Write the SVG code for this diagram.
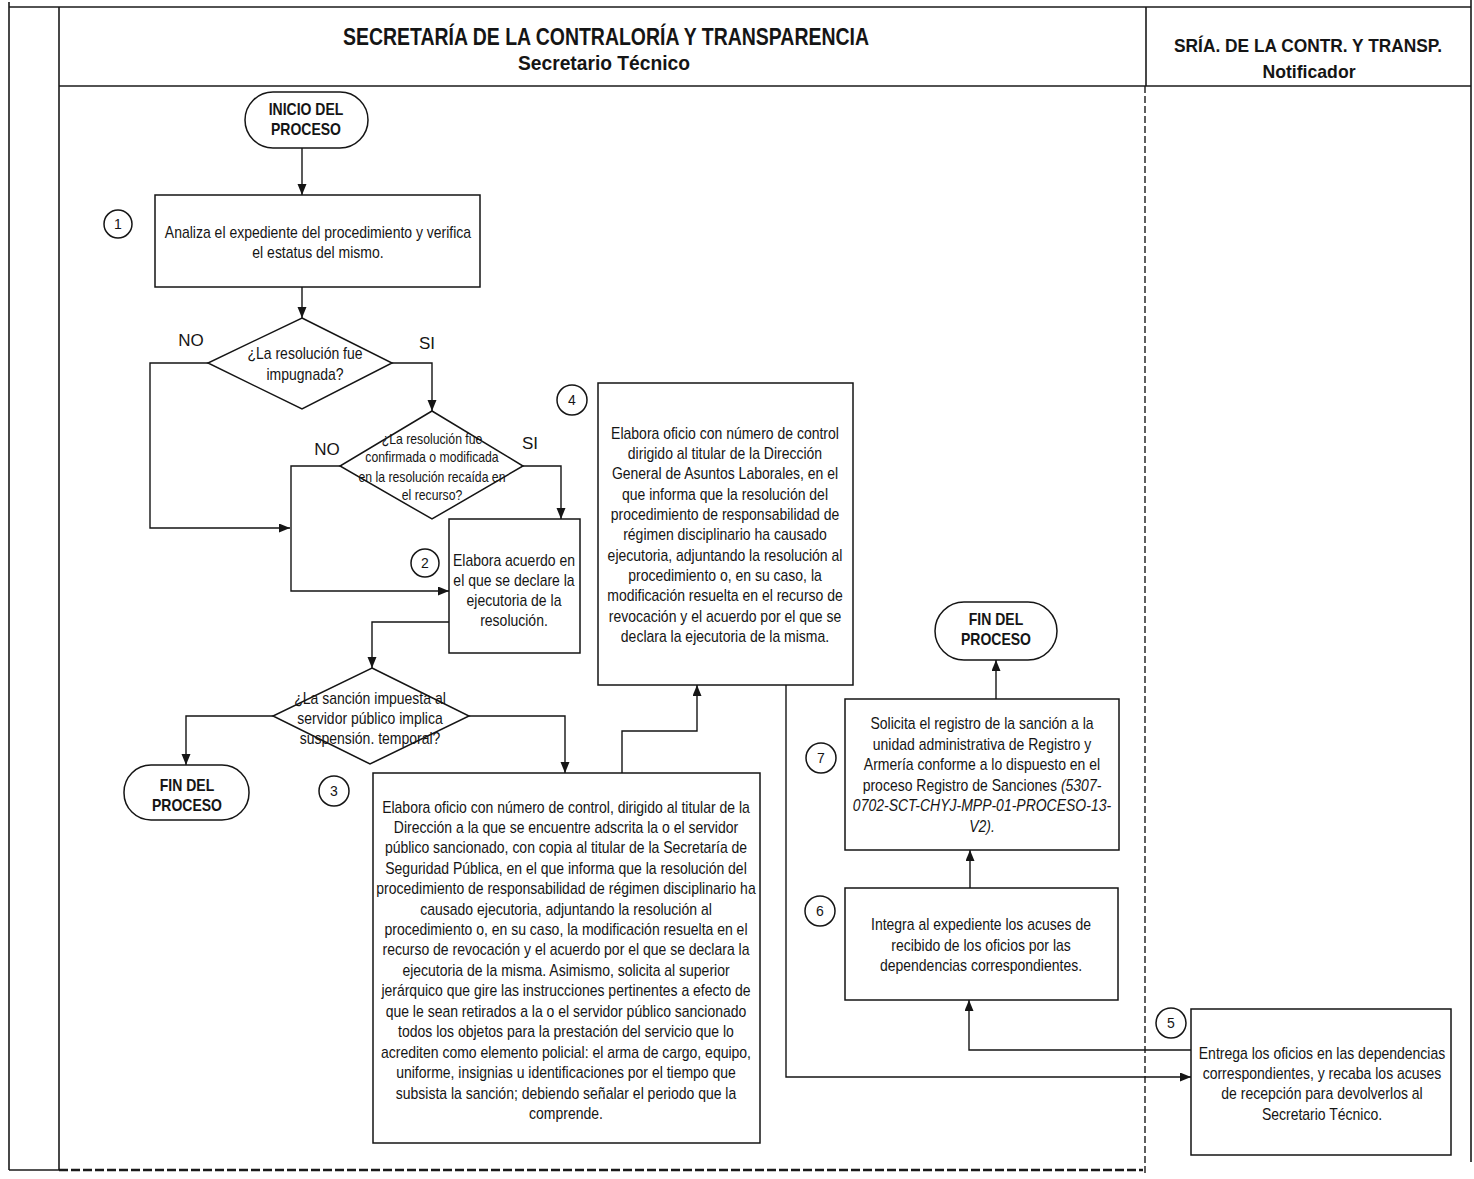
<svg xmlns="http://www.w3.org/2000/svg" width="1474" height="1179" viewBox="0 0 1474 1179">
  <style>
    .frame { fill: none; stroke: #1a1a1a; stroke-width: 1.6; }
    .dash { fill: none; stroke: #1a1a1a; stroke-width: 1.4; stroke-dasharray: 7 3; }
    .dashb { fill: none; stroke: #1a1a1a; stroke-width: 2.6; stroke-dasharray: 9 3; }
    .ln { fill: none; stroke: #151515; stroke-width: 1.4; }
    .box { fill: #ffffff; stroke: #151515; stroke-width: 1.5; }
    .t { font-family: "Liberation Sans", Arial, sans-serif; font-size: 16px; fill: #151515; text-anchor: middle; }
    .b { font-weight: bold; }
    .sm { font-size: 14px; }
    .num { font-size: 14px; }
    .lbl { font-size: 17px; }
    .it { font-style: italic; }
    .h1 { font-size: 24px; }
    .h2 { font-size: 20px; }
    .h3 { font-size: 19px; }
  </style>
  <defs>
    <marker id="arr" markerUnits="userSpaceOnUse" markerWidth="12" markerHeight="10" refX="11" refY="4.5" orient="auto">
      <path d="M0,0 L11,4.5 L0,9 z" fill="#151515"/>
    </marker>
  </defs>

  <rect width="1474" height="1179" fill="#ffffff"/>

  <!-- Swimlane frame -->
  <g id="frame">
    <line class="frame" x1="9" y1="7" x2="1471" y2="7"/>
    <line class="frame" x1="9" y1="2" x2="9" y2="1170"/>
    <line class="frame" x1="59" y1="7" x2="59" y2="1170"/>
    <line class="frame" x1="9" y1="1170" x2="59" y2="1170"/>
    <line class="frame" x1="59" y1="86" x2="1471" y2="86"/>
    <line class="frame" x1="1146" y1="7" x2="1146" y2="86"/>
    <line class="dash" x1="1145" y1="86" x2="1145" y2="1176"/>
    <line class="frame" x1="1471" y1="0" x2="1471" y2="1162"/>
    <line class="dashb" x1="59" y1="1170" x2="1143" y2="1170"/>
  </g>

  <!-- Lane headers -->
  <g id="header-secretario">
    <text class="t b h1" x="606" y="45" textLength="526" lengthAdjust="spacingAndGlyphs">SECRETARÍA DE LA CONTRALORÍA Y TRANSPARENCIA</text>
    <text class="t b h2" x="604" y="70" textLength="172" lengthAdjust="spacingAndGlyphs">Secretario Técnico</text>
  </g>
  <g id="header-notificador">
    <text class="t b h3" x="1308" y="52" textLength="268" lengthAdjust="spacingAndGlyphs">SRÍA. DE LA CONTR. Y TRANSP.</text>
    <text class="t b h3" x="1309" y="78" textLength="93" lengthAdjust="spacingAndGlyphs">Notificador</text>
  </g>

  <!-- Connectors -->
  <g id="connectors">
    <path class="ln" d="M302,148 V195" marker-end="url(#arr)"/>
    <path class="ln" d="M302,287 V318" marker-end="url(#arr)"/>
    <path class="ln" d="M208,363 H150 V528 H290" marker-end="url(#arr)"/>
    <path class="ln" d="M392,363 H432 V411" marker-end="url(#arr)"/>
    <path class="ln" d="M340,466 H291 V591 H449" marker-end="url(#arr)"/>
    <path class="ln" d="M523,466 H561 V519" marker-end="url(#arr)"/>
    <path class="ln" d="M449,622 H372 V668" marker-end="url(#arr)"/>
    <path class="ln" d="M273,716 H186 V765" marker-end="url(#arr)"/>
    <path class="ln" d="M469,716 H565 V773" marker-end="url(#arr)"/>
    <path class="ln" d="M622,773 V731 H697 V685" marker-end="url(#arr)"/>
    <path class="ln" d="M786,685 V1077 H1191" marker-end="url(#arr)"/>
    <path class="ln" d="M1191,1050 H969 V1000" marker-end="url(#arr)"/>
    <path class="ln" d="M970,888 V850" marker-end="url(#arr)"/>
    <path class="ln" d="M996,699 V660" marker-end="url(#arr)"/>
    <text class="t lbl" x="191" y="346">NO</text>
    <text class="t lbl" x="427" y="349">SI</text>
    <text class="t lbl" x="327" y="455">NO</text>
    <text class="t lbl" x="530" y="449">SI</text>
  </g>

  <!-- Start -->
  <g id="inicio">
    <rect class="box" x="245" y="92" width="123" height="56" rx="28"/>
    <g transform="translate(306,0) scale(0.875,1)">
      <text class="t b" x="0" y="115">INICIO DEL</text>
      <text class="t b" x="0" y="135">PROCESO</text>
    </g>
  </g>

  <!-- Step 1 -->
  <g id="paso-1">
    <rect class="box" x="155" y="195" width="325" height="92"/>
    <g transform="translate(318,0) scale(0.875,1)">
      <text class="t" x="0" y="238">Analiza el expediente del procedimiento y verifica</text>
      <text class="t" x="0" y="258">el estatus del mismo.</text>
    </g>
    <circle class="box" cx="118" cy="224" r="14"/>
    <text class="t num" x="118" y="229">1</text>
  </g>

  <!-- Decision: impugnada -->
  <g id="decision-impugnada">
    <polygon class="box" points="302,318 392,363 302,409 208,363"/>
    <g transform="translate(305,0) scale(0.875,1)">
      <text class="t" x="0" y="359">¿La resolución fue</text>
      <text class="t" x="0" y="380">impugnada?</text>
    </g>
  </g>

  <!-- Decision: confirmada o modificada -->
  <g id="decision-confirmada">
    <polygon class="box" points="432,411 523,466 432,519 340,466"/>
    <g transform="translate(432,0) scale(0.875,1)">
      <text class="t sm" x="0" y="444">¿La resolución fue</text>
      <text class="t sm" x="0" y="462">confirmada o modificada</text>
      <text class="t sm" x="0" y="482">en la resolución recaída en</text>
      <text class="t sm" x="0" y="500">el recurso?</text>
    </g>
  </g>

  <!-- Step 2 -->
  <g id="paso-2">
    <rect class="box" x="449" y="519" width="131" height="134"/>
    <g transform="translate(514,0) scale(0.875,1)">
      <text class="t" x="0" y="566">Elabora acuerdo en</text>
      <text class="t" x="0" y="586">el que se declare la</text>
      <text class="t" x="0" y="606">ejecutoria de la</text>
      <text class="t" x="0" y="626">resolución.</text>
    </g>
    <circle class="box" cx="425" cy="563" r="14"/>
    <text class="t num" x="425" y="568">2</text>
  </g>

  <!-- Decision: suspensión temporal -->
  <g id="decision-suspension">
    <polygon class="box" points="372,668 469,716 370,764 273,716"/>
    <g transform="translate(370,0) scale(0.875,1)">
      <text class="t" x="0" y="704">¿La sanción impuesta al</text>
      <text class="t" x="0" y="724">servidor público implica</text>
      <text class="t" x="0" y="744">suspensión. temporal?</text>
    </g>
  </g>

  <!-- End (no suspension) -->
  <g id="fin-1">
    <rect class="box" x="124" y="765" width="125" height="55" rx="27"/>
    <g transform="translate(187,0) scale(0.875,1)">
      <text class="t b" x="0" y="791">FIN DEL</text>
      <text class="t b" x="0" y="811">PROCESO</text>
    </g>
  </g>

  <!-- Step 3 -->
  <g id="paso-3">
    <rect class="box" x="373" y="773" width="387" height="370"/>
    <g transform="translate(566,0) scale(0.875,1)">
      <text class="t" x="0" y="813">Elabora oficio con número de control, dirigido al titular de la</text>
      <text class="t" x="0" y="833">Dirección a la que se encuentre adscrita la o el servidor</text>
      <text class="t" x="0" y="853">público sancionado, con copia al titular de la Secretaría de</text>
      <text class="t" x="0" y="874">Seguridad Pública, en el que informa que la resolución del</text>
      <text class="t" x="0" y="894">procedimiento de responsabilidad de régimen disciplinario ha</text>
      <text class="t" x="0" y="915">causado ejecutoria, adjuntando la resolución al</text>
      <text class="t" x="0" y="935">procedimiento o, en su caso, la modificación resuelta en el</text>
      <text class="t" x="0" y="955">recurso de revocación y el acuerdo por el que se declara la</text>
      <text class="t" x="0" y="976">ejecutoria de la misma. Asimismo, solicita al superior</text>
      <text class="t" x="0" y="996">jerárquico que gire las instrucciones pertinentes a efecto de</text>
      <text class="t" x="0" y="1017">que le sean retirados a la o el servidor público sancionado</text>
      <text class="t" x="0" y="1037">todos los objetos para la prestación del servicio que lo</text>
      <text class="t" x="0" y="1058">acrediten como elemento policial: el arma de cargo, equipo,</text>
      <text class="t" x="0" y="1078">uniforme, insignias u identificaciones por el tiempo que</text>
      <text class="t" x="0" y="1099">subsista la sanción; debiendo señalar el periodo que la</text>
      <text class="t" x="0" y="1119">comprende.</text>
    </g>
    <circle class="box" cx="334" cy="791" r="15"/>
    <text class="t num" x="334" y="796">3</text>
  </g>

  <!-- Step 4 -->
  <g id="paso-4">
    <rect class="box" x="598" y="383" width="255" height="302"/>
    <g transform="translate(725,0) scale(0.875,1)">
      <text class="t" x="0" y="439">Elabora oficio con número de control</text>
      <text class="t" x="0" y="459">dirigido al titular de la Dirección</text>
      <text class="t" x="0" y="479">General de Asuntos Laborales, en el</text>
      <text class="t" x="0" y="500">que informa que la resolución del</text>
      <text class="t" x="0" y="520">procedimiento de responsabilidad de</text>
      <text class="t" x="0" y="540">régimen disciplinario ha causado</text>
      <text class="t" x="0" y="561">ejecutoria, adjuntando la resolución al</text>
      <text class="t" x="0" y="581">procedimiento o, en su caso, la</text>
      <text class="t" x="0" y="601">modificación resuelta en el recurso de</text>
      <text class="t" x="0" y="622">revocación y el acuerdo por el que se</text>
      <text class="t" x="0" y="642">declara la ejecutoria de la misma.</text>
    </g>
    <circle class="box" cx="572" cy="400" r="15"/>
    <text class="t num" x="572" y="405">4</text>
  </g>

  <!-- Step 5 -->
  <g id="paso-5">
    <rect class="box" x="1191" y="1009" width="260" height="146"/>
    <g transform="translate(1322,0) scale(0.875,1)">
      <text class="t" x="0" y="1059">Entrega los oficios en las dependencias</text>
      <text class="t" x="0" y="1079">correspondientes, y recaba los acuses</text>
      <text class="t" x="0" y="1099">de recepción para devolverlos al</text>
      <text class="t" x="0" y="1120">Secretario Técnico.</text>
    </g>
    <circle class="box" cx="1171" cy="1023" r="15"/>
    <text class="t num" x="1171" y="1028">5</text>
  </g>

  <!-- Step 6 -->
  <g id="paso-6">
    <rect class="box" x="845" y="888" width="273" height="112"/>
    <g transform="translate(981,0) scale(0.875,1)">
      <text class="t" x="0" y="930">Integra al expediente los acuses de</text>
      <text class="t" x="0" y="951">recibido de los oficios por las</text>
      <text class="t" x="0" y="971">dependencias correspondientes.</text>
    </g>
    <circle class="box" cx="820" cy="911" r="15"/>
    <text class="t num" x="820" y="916">6</text>
  </g>

  <!-- Step 7 -->
  <g id="paso-7">
    <rect class="box" x="845" y="699" width="274" height="151"/>
    <g transform="translate(982,0) scale(0.875,1)">
      <text class="t" x="0" y="729">Solicita el registro de la sanción a la</text>
      <text class="t" x="0" y="750">unidad administrativa de Registro y</text>
      <text class="t" x="0" y="770">Armería conforme a lo dispuesto en el</text>
      <text class="t" x="0" y="791">proceso Registro de Sanciones <tspan class="it">(5307-</tspan></text>
      <text class="t it" x="0" y="811">0702-SCT-CHYJ-MPP-01-PROCESO-13-</text>
      <text class="t it" x="0" y="832">V2).</text>
    </g>
    <circle class="box" cx="821" cy="758" r="15"/>
    <text class="t num" x="821" y="763">7</text>
  </g>

  <!-- End -->
  <g id="fin-2">
    <rect class="box" x="935" y="602" width="122" height="58" rx="29"/>
    <g transform="translate(996,0) scale(0.875,1)">
      <text class="t b" x="0" y="625">FIN DEL</text>
      <text class="t b" x="0" y="645">PROCESO</text>
    </g>
  </g>
</svg>
